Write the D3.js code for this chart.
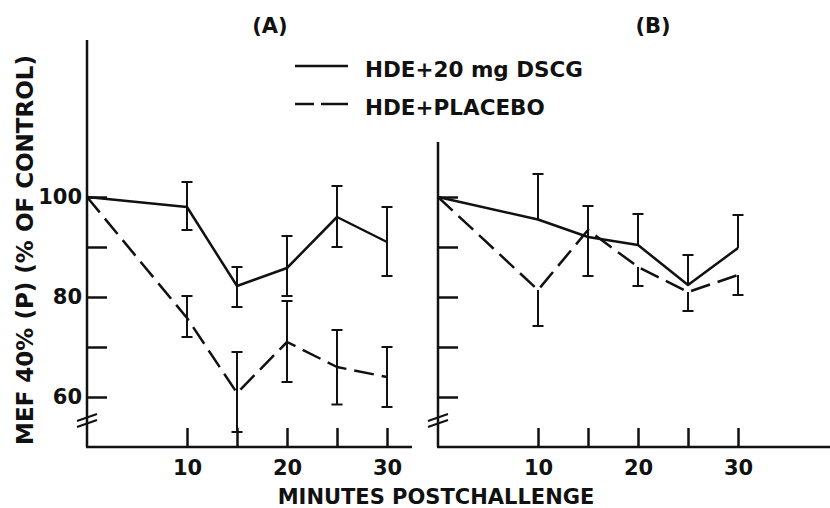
<!DOCTYPE html>
<html>
<head>
<meta charset="utf-8">
<script src="https://cdn.jsdelivr.net/npm/d3@7/dist/d3.min.js"></script>
<style>
  body { margin: 0; background: #fff; }
  text { font-family: "DejaVu Sans", sans-serif; font-weight: 700; fill: #111; }
</style>
</head>
<body>
<div id="chart"></div>
<script>
// minutes after challenge
const minutes = [0, 10, 15, 20, 25, 30];

// panel A
const aDscg      = [100, 98, 82.2, 85.8, 96, 91];
const aDscgHi    = [null, 103, 86, 92.2, 102.2, 98];
const aDscgLo    = [null, 93.4, 78, 80.2, 90, 84.2];
const aPlacebo   = [100, 75.8, 60.8, 71, 66, 64];
const aPlaceboHi = [null, 80.2, 69, 79.2, 73.4, 70];
const aPlaceboLo = [null, 72, 53, 63, 58.5, 58];

// panel B (bars drawn one-sided where the two curves are close)
const bDscg      = [100, 95.5, 92, 90.4, 82.4, 89.8];
const bDscgHi    = [null, 104.6, 98.2, 96.6, 88.4, 96.4];
const bDscgLo    = [null, null, 84.2, null, null, null];
const bPlacebo   = [100, 81.4, 93.4, 86, 81, 84.4];
const bPlaceboHi = [null, null, null, null, null, null];
const bPlaceboLo = [null, 74.2, null, 82.2, 77.2, 80.4];

const yTicks = [60, 70, 80, 90, 100];
const yLabels = [60, 80, 100];
const xTicks = [10, 15, 20, 25, 30];
const xLabels = [10, 20, 30];

const legendNames = ["HDE+20 mg DSCG", "HDE+PLACEBO"];

const W = 830, H = 508;
const ink = "#111";
const lw = 2.5;
const dash = "20,8";

const svg = d3.select("#chart").append("svg")
  .attr("width", W).attr("height", H);

const y = d3.scaleLinear().domain([50, 100]).range([447, 197]);

const panels = [
  { title: "(A)", tx: 270, x: d3.scaleLinear().domain([0, 30]).range([87, 387]),
    top: 40, right: 412, labels: true,
    s: [aDscg, aDscgHi, aDscgLo], p: [aPlacebo, aPlaceboHi, aPlaceboLo] },
  { title: "(B)", tx: 653, x: d3.scaleLinear().domain([0, 30]).range([438, 738]),
    top: 142, right: 830, labels: false,
    s: [bDscg, bDscgHi, bDscgLo], p: [bPlacebo, bPlaceboHi, bPlaceboLo] }
];

panels.forEach(pn => {
  const g = svg.append("g");
  const x = pn.x;
  const x0 = x(0), yb = y(50);

  // y axis ticks (inward)
  const ya = g.append("g").attr("transform", `translate(${x0},0)`)
    .call(d3.axisLeft(y).tickValues(yTicks).tickSizeInner(-20).tickSizeOuter(0)
      .tickPadding(5).tickFormat(d => pn.labels && yLabels.includes(d) ? d : ""));
  ya.select(".domain").remove();
  ya.selectAll("line").attr("stroke", ink).attr("stroke-width", lw);
  ya.selectAll("text").style("font-size", "21px").attr("fill", ink);

  // x axis ticks (upward)
  const xa = g.append("g").attr("transform", `translate(0,${yb})`)
    .call(d3.axisBottom(x).tickValues(xTicks).tickSizeInner(-19).tickSizeOuter(0)
      .tickPadding(13).tickFormat(d => xLabels.includes(d) ? d : ""));
  xa.select(".domain").remove();
  xa.selectAll("line").attr("stroke", ink).attr("stroke-width", lw);
  xa.selectAll("text").style("font-size", "21px").attr("fill", ink);

  // axis lines
  g.append("line").attr("x1", x0).attr("x2", x0).attr("y1", pn.top).attr("y2", yb)
    .attr("stroke", ink).attr("stroke-width", lw);
  g.append("line").attr("x1", x0 - 1).attr("x2", pn.right).attr("y1", yb).attr("y2", yb)
    .attr("stroke", ink).attr("stroke-width", lw);

  // axis break
  [0, 6].forEach(off => {
    g.append("line")
      .attr("x1", x0 - 10).attr("y1", 421 + off)
      .attr("x2", x0 + 10).attr("y2", 414 + off)
      .attr("stroke", ink).attr("stroke-width", 2);
  });

  // title
  g.append("text").attr("x", pn.tx).attr("y", 33).attr("text-anchor", "middle")
    .style("font-size", "21px").text(pn.title);

  const line = d3.line().x((d, i) => x(minutes[i])).y(d => y(d));

  [[pn.s, null], [pn.p, dash]].forEach(([ser, da]) => {
    g.append("path").datum(ser[0]).attr("d", line)
      .attr("fill", "none").attr("stroke", ink).attr("stroke-width", lw)
      .attr("stroke-linejoin", "round")
      .attr("stroke-dasharray", da);

    // error bars
    ser[0].forEach((v, i) => {
      const hi = ser[1][i], lo = ser[2][i];
      if (hi == null && lo == null) return;
      const top = hi == null ? v : hi;
      const bot = lo == null ? v : lo;
      const cx = x(minutes[i]);
      g.append("line").attr("x1", cx).attr("x2", cx).attr("y1", y(top)).attr("y2", y(bot))
        .attr("stroke", ink).attr("stroke-width", 2);
      if (hi != null)
        g.append("line").attr("x1", cx - 5.5).attr("x2", cx + 5.5).attr("y1", y(hi)).attr("y2", y(hi))
          .attr("stroke", ink).attr("stroke-width", 2);
      if (lo != null)
        g.append("line").attr("x1", cx - 5.5).attr("x2", cx + 5.5).attr("y1", y(lo)).attr("y2", y(lo))
          .attr("stroke", ink).attr("stroke-width", 2);
    });
  });
});

// y axis title
svg.append("text")
  .attr("transform", "translate(33,250) rotate(-90)")
  .attr("text-anchor", "middle")
  .style("font-size", "23px")
  .text("MEF 40% (P) (% OF CONTROL)");

// x axis title
svg.append("text")
  .attr("x", 436).attr("y", 504).attr("text-anchor", "middle")
  .style("font-size", "21px")
  .text("MINUTES POSTCHALLENGE");

// legend
const lg = svg.append("g");
legendNames.forEach((name, i) => {
  const ly = 66 + i * 38;
  lg.append("line").attr("x1", 295).attr("x2", 348).attr("y1", ly).attr("y2", ly)
    .attr("stroke", ink).attr("stroke-width", lw)
    .attr("stroke-dasharray", i === 1 ? "19,7,30" : null);
  lg.append("text").attr("x", 365).attr("y", ly + 11)
    .style("font-size", "21.5px").text(name);
});
</script>
</body>
</html>
